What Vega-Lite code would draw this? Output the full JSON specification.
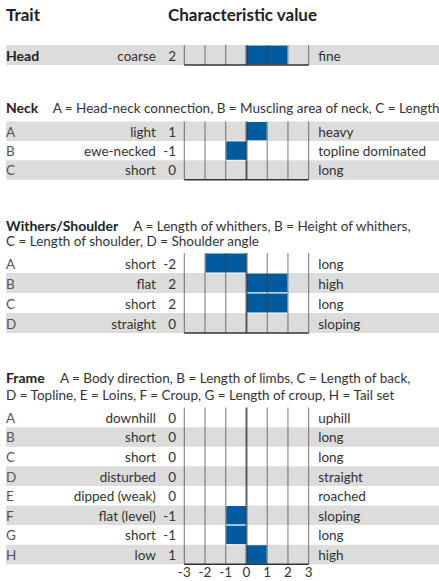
{
  "$schema": "https://vega.github.io/schema/vega-lite/v6.json",
  "padding": {"left": 6, "top": 0, "right": 0, "bottom": 0},
  "background": "white",
  "spacing": 0,
  "bounds": "flush",
  "config": {
    "view": {"stroke": null},
    "font": "Lato",
    "text": {"font": "Lato", "fontSize": 13.5, "color": "#333333"}
  },
  "datasets": {
    "head": [
      {"item": "Head", "low": "coarse", "high": "fine", "value": 2}
    ],
    "neck": [
      {"item": "A", "low": "light", "high": "heavy", "value": 1},
      {"item": "B", "low": "ewe-necked", "high": "topline dominated", "value": -1},
      {"item": "C", "low": "short", "high": "long", "value": 0}
    ],
    "withers": [
      {"item": "A", "low": "short", "high": "long", "value": -2},
      {"item": "B", "low": "flat", "high": "high", "value": 2},
      {"item": "C", "low": "short", "high": "long", "value": 2},
      {"item": "D", "low": "straight", "high": "sloping", "value": 0}
    ],
    "frame": [
      {"item": "A", "low": "downhill", "high": "uphill", "value": 0},
      {"item": "B", "low": "short", "high": "long", "value": 0},
      {"item": "C", "low": "short", "high": "long", "value": 0},
      {"item": "D", "low": "disturbed", "high": "straight", "value": 0},
      {"item": "E", "low": "dipped (weak)", "high": "roached", "value": 0},
      {"item": "F", "low": "flat (level)", "high": "sloping", "value": -1},
      {"item": "G", "low": "short", "high": "long", "value": -1},
      {"item": "H", "low": "low", "high": "high", "value": 1}
    ],
    "scaleLabels": [
      {"tick": -3}, {"tick": -2}, {"tick": -1}, {"tick": 0}, {"tick": 1}, {"tick": 2}, {"tick": 3}
    ]
  },
  "vconcat": [
    {
      "width": 433,
      "height": 65,
      "data": {"name": "head"},
      "layer": [
        {
          "mark": {"type": "rect", "fill": "#dcdcdc"},
          "encoding": {
            "x": {"datum": -11.6, "type": "quantitative", "scale": {"domain": [-11.6, 9.286], "nice": false, "zero": false}, "axis": null},
            "x2": {"datum": 9.286},
            "y": {"field": "item", "type": "nominal", "scale": {"domain": ["title", "blank", "Head"], "paddingInner": 0, "paddingOuter": 0.125, "align": 1}, "axis": null}
          }
        },
        {
          "transform": [{"filter": "datum.value != 0"}],
          "mark": {"type": "rect", "fill": "#005b9f", "stroke": "white", "strokeWidth": 1},
          "encoding": {
            "x": {"field": "value", "type": "quantitative", "axis": null},
            "x2": {"datum": 0},
            "y": {"field": "item", "type": "nominal", "axis": null}
          }
        },
        {
          "encoding": {"y": {"field": "item", "type": "nominal", "axis": null}},
          "layer": [
            {"mark": {"type": "tick", "size": 20, "thickness": 1, "color": "#3d3d3d"}, "encoding": {"x": {"datum": -3, "type": "quantitative", "axis": null}}},
            {"mark": {"type": "tick", "size": 20, "thickness": 1, "color": "#3d3d3d"}, "encoding": {"x": {"datum": -2, "type": "quantitative", "axis": null}}},
            {"mark": {"type": "tick", "size": 20, "thickness": 1, "color": "#3d3d3d"}, "encoding": {"x": {"datum": -1, "type": "quantitative", "axis": null}}},
            {"mark": {"type": "tick", "size": 20, "thickness": 2, "color": "#222222"}, "encoding": {"x": {"datum": 0, "type": "quantitative", "axis": null}}},
            {"mark": {"type": "tick", "size": 20, "thickness": 1, "color": "#3d3d3d"}, "encoding": {"x": {"datum": 1, "type": "quantitative", "axis": null}}},
            {"mark": {"type": "tick", "size": 20, "thickness": 1, "color": "#3d3d3d"}, "encoding": {"x": {"datum": 2, "type": "quantitative", "axis": null}}},
            {"mark": {"type": "tick", "size": 20, "thickness": 1, "color": "#3d3d3d"}, "encoding": {"x": {"datum": 3, "type": "quantitative", "axis": null}}}
          ]
        },
        {
          "data": {"values": [{}]},
          "mark": {"type": "rule", "strokeWidth": 1.5, "color": "#333333"},
          "encoding": {
            "x": {"datum": -3, "type": "quantitative", "axis": null},
            "x2": {"datum": 3},
            "y": {"datum": "Head", "type": "nominal", "bandPosition": 1, "axis": null}
          }
        },
        {
          "data": {"values": [{}]},
          "mark": {"type": "text", "text": "Trait", "fontWeight": "bold", "fontSize": 17, "align": "left", "baseline": "middle", "dy": 1, "color": "#222222"},
          "encoding": {
            "x": {"datum": -11.6, "type": "quantitative", "axis": null},
            "y": {"datum": "title", "type": "nominal", "axis": null}
          }
        },
        {
          "data": {"values": [{}]},
          "mark": {"type": "text", "text": "Characteristic value", "fontWeight": "bold", "fontSize": 17, "align": "left", "baseline": "middle", "dy": 1, "color": "#222222"},
          "encoding": {
            "x": {"datum": -3.79, "type": "quantitative", "axis": null},
            "y": {"datum": "title", "type": "nominal", "axis": null}
          }
        },
        {
          "mark": {"type": "text", "fontWeight": "bold", "fontSize": 14, "align": "left", "baseline": "middle", "dy": 2, "color": "#222222"},
          "encoding": {
            "x": {"datum": -11.6, "type": "quantitative", "axis": null},
            "y": {"field": "item", "type": "nominal", "axis": null},
            "text": {"field": "item", "type": "nominal"}
          }
        },
        {
          "mark": {"type": "text", "align": "right", "baseline": "middle", "dy": 2},
          "encoding": {
            "x": {"datum": -4.37, "type": "quantitative", "axis": null},
            "y": {"field": "item", "type": "nominal", "axis": null},
            "text": {"field": "low", "type": "nominal"}
          }
        },
        {
          "mark": {"type": "text", "align": "right", "baseline": "middle", "dy": 2},
          "encoding": {
            "x": {"datum": -3.4, "type": "quantitative", "axis": null},
            "y": {"field": "item", "type": "nominal", "axis": null},
            "text": {"field": "value", "type": "nominal"}
          }
        },
        {
          "mark": {"type": "text", "align": "left", "baseline": "middle", "dy": 2},
          "encoding": {
            "x": {"datum": 3.46, "type": "quantitative", "axis": null},
            "y": {"field": "item", "type": "nominal", "axis": null},
            "text": {"field": "high", "type": "nominal"}
          }
        }
      ]
    },
    {
      "width": 433,
      "height": 114.7,
      "data": {"name": "neck"},
      "layer": [
        {
          "transform": [{"filter": {"field": "item", "oneOf": ["A", "C"]}}],
          "mark": {"type": "rect", "fill": "#dcdcdc"},
          "encoding": {
            "x": {"datum": -11.6, "type": "quantitative", "scale": {"domain": [-11.6, 9.286], "nice": false, "zero": false}, "axis": null},
            "x2": {"datum": 9.286},
            "y": {"field": "item", "type": "nominal", "scale": {"domain": ["h1", "A", "B", "C"], "paddingInner": 0, "paddingOuter": 0.956, "align": 1}, "axis": null}
          }
        },
        {
          "transform": [{"filter": "datum.value != 0"}],
          "mark": {"type": "rect", "fill": "#005b9f", "stroke": "white", "strokeWidth": 1},
          "encoding": {
            "x": {"field": "value", "type": "quantitative", "axis": null},
            "x2": {"datum": 0},
            "y": {"field": "item", "type": "nominal", "axis": null}
          }
        },
        {
          "encoding": {"y": {"field": "item", "type": "nominal", "axis": null}},
          "layer": [
            {"mark": {"type": "tick", "size": 19.4, "thickness": 1, "color": "#3d3d3d"}, "encoding": {"x": {"datum": -3, "type": "quantitative", "axis": null}}},
            {"mark": {"type": "tick", "size": 19.4, "thickness": 1, "color": "#3d3d3d"}, "encoding": {"x": {"datum": -2, "type": "quantitative", "axis": null}}},
            {"mark": {"type": "tick", "size": 19.4, "thickness": 1, "color": "#3d3d3d"}, "encoding": {"x": {"datum": -1, "type": "quantitative", "axis": null}}},
            {"mark": {"type": "tick", "size": 19.4, "thickness": 2, "color": "#222222"}, "encoding": {"x": {"datum": 0, "type": "quantitative", "axis": null}}},
            {"mark": {"type": "tick", "size": 19.4, "thickness": 1, "color": "#3d3d3d"}, "encoding": {"x": {"datum": 1, "type": "quantitative", "axis": null}}},
            {"mark": {"type": "tick", "size": 19.4, "thickness": 1, "color": "#3d3d3d"}, "encoding": {"x": {"datum": 2, "type": "quantitative", "axis": null}}},
            {"mark": {"type": "tick", "size": 19.4, "thickness": 1, "color": "#3d3d3d"}, "encoding": {"x": {"datum": 3, "type": "quantitative", "axis": null}}}
          ]
        },
        {
          "data": {"values": [{}]},
          "mark": {"type": "rule", "strokeWidth": 1.5, "color": "#333333"},
          "encoding": {
            "x": {"datum": -3, "type": "quantitative", "axis": null},
            "x2": {"datum": 3},
            "y": {"datum": "C", "type": "nominal", "bandPosition": 1, "axis": null}
          }
        },
        {
          "data": {"values": [{}]},
          "mark": {"type": "text", "text": "Neck", "fontWeight": "bold", "fontSize": 14, "align": "left", "baseline": "middle", "dy": -2.5, "color": "#222222"},
          "encoding": {
            "x": {"datum": -11.6, "type": "quantitative", "axis": null},
            "y": {"datum": "h1", "type": "nominal", "axis": null}
          }
        },
        {
          "data": {"values": [{}]},
          "mark": {"type": "text", "text": "A = Head-neck connection, B = Muscling area of neck, C = Length", "align": "left", "baseline": "middle", "dy": -2.5},
          "encoding": {
            "x": {"datum": -9.35, "type": "quantitative", "axis": null},
            "y": {"datum": "h1", "type": "nominal", "axis": null}
          }
        },
        {
          "mark": {"type": "text", "align": "left", "baseline": "middle", "dy": 1.5, "color": "#555555"},
          "encoding": {
            "x": {"datum": -11.6, "type": "quantitative", "axis": null},
            "y": {"field": "item", "type": "nominal", "axis": null},
            "text": {"field": "item", "type": "nominal"}
          }
        },
        {
          "mark": {"type": "text", "align": "right", "baseline": "middle", "dy": 1.5},
          "encoding": {
            "x": {"datum": -4.37, "type": "quantitative", "axis": null},
            "y": {"field": "item", "type": "nominal", "axis": null},
            "text": {"field": "low", "type": "nominal"}
          }
        },
        {
          "mark": {"type": "text", "align": "right", "baseline": "middle", "dy": 1.5},
          "encoding": {
            "x": {"datum": -3.4, "type": "quantitative", "axis": null},
            "y": {"field": "item", "type": "nominal", "axis": null},
            "text": {"field": "value", "type": "nominal"}
          }
        },
        {
          "mark": {"type": "text", "align": "left", "baseline": "middle", "dy": 1.5},
          "encoding": {
            "x": {"datum": 3.46, "type": "quantitative", "axis": null},
            "y": {"field": "item", "type": "nominal", "axis": null},
            "text": {"field": "high", "type": "nominal"}
          }
        }
      ]
    },
    {
      "width": 433,
      "height": 153,
      "data": {"name": "withers"},
      "layer": [
        {
          "transform": [{"filter": {"field": "item", "oneOf": ["B", "D"]}}],
          "mark": {"type": "rect", "fill": "#dcdcdc"},
          "encoding": {
            "x": {"datum": -11.6, "type": "quantitative", "scale": {"domain": [-11.6, 9.286], "nice": false, "zero": false}, "axis": null},
            "x2": {"datum": 9.286},
            "y": {"field": "item", "type": "nominal", "scale": {"domain": ["h1", "h2", "A", "B", "C", "D"], "paddingInner": 0, "paddingOuter": 0.825, "align": 1}, "axis": null}
          }
        },
        {
          "transform": [{"filter": "datum.value != 0"}],
          "mark": {"type": "rect", "fill": "#005b9f", "stroke": "white", "strokeWidth": 1},
          "encoding": {
            "x": {"field": "value", "type": "quantitative", "axis": null},
            "x2": {"datum": 0},
            "y": {"field": "item", "type": "nominal", "axis": null}
          }
        },
        {
          "encoding": {"y": {"field": "item", "type": "nominal", "axis": null}},
          "layer": [
            {"mark": {"type": "tick", "size": 20, "thickness": 1, "color": "#3d3d3d"}, "encoding": {"x": {"datum": -3, "type": "quantitative", "axis": null}}},
            {"mark": {"type": "tick", "size": 20, "thickness": 1, "color": "#3d3d3d"}, "encoding": {"x": {"datum": -2, "type": "quantitative", "axis": null}}},
            {"mark": {"type": "tick", "size": 20, "thickness": 1, "color": "#3d3d3d"}, "encoding": {"x": {"datum": -1, "type": "quantitative", "axis": null}}},
            {"mark": {"type": "tick", "size": 20, "thickness": 2, "color": "#222222"}, "encoding": {"x": {"datum": 0, "type": "quantitative", "axis": null}}},
            {"mark": {"type": "tick", "size": 20, "thickness": 1, "color": "#3d3d3d"}, "encoding": {"x": {"datum": 1, "type": "quantitative", "axis": null}}},
            {"mark": {"type": "tick", "size": 20, "thickness": 1, "color": "#3d3d3d"}, "encoding": {"x": {"datum": 2, "type": "quantitative", "axis": null}}},
            {"mark": {"type": "tick", "size": 20, "thickness": 1, "color": "#3d3d3d"}, "encoding": {"x": {"datum": 3, "type": "quantitative", "axis": null}}}
          ]
        },
        {
          "data": {"values": [{}]},
          "mark": {"type": "rule", "strokeWidth": 1.5, "color": "#333333"},
          "encoding": {
            "x": {"datum": -3, "type": "quantitative", "axis": null},
            "x2": {"datum": 3},
            "y": {"datum": "D", "type": "nominal", "bandPosition": 1, "axis": null}
          }
        },
        {
          "data": {"values": [{}]},
          "mark": {"type": "text", "text": "Withers/Shoulder", "fontWeight": "bold", "fontSize": 14, "align": "left", "baseline": "middle", "dy": 4, "color": "#222222"},
          "encoding": {
            "x": {"datum": -11.6, "type": "quantitative", "axis": null},
            "y": {"datum": "h1", "type": "nominal", "axis": null}
          }
        },
        {
          "data": {"values": [{}]},
          "mark": {"type": "text", "text": "A = Length of whithers, B = Height of whithers,", "align": "left", "baseline": "middle", "dy": 4},
          "encoding": {
            "x": {"datum": -5.46, "type": "quantitative", "axis": null},
            "y": {"datum": "h1", "type": "nominal", "axis": null}
          }
        },
        {
          "data": {"values": [{}]},
          "mark": {"type": "text", "text": "C = Length of shoulder, D = Shoulder angle", "align": "left", "baseline": "middle", "dy": -0.7},
          "encoding": {
            "x": {"datum": -11.6, "type": "quantitative", "axis": null},
            "y": {"datum": "h2", "type": "nominal", "axis": null}
          }
        },
        {
          "mark": {"type": "text", "align": "left", "baseline": "middle", "dy": 1.5, "color": "#555555"},
          "encoding": {
            "x": {"datum": -11.6, "type": "quantitative", "axis": null},
            "y": {"field": "item", "type": "nominal", "axis": null},
            "text": {"field": "item", "type": "nominal"}
          }
        },
        {
          "mark": {"type": "text", "align": "right", "baseline": "middle", "dy": 1.5},
          "encoding": {
            "x": {"datum": -4.37, "type": "quantitative", "axis": null},
            "y": {"field": "item", "type": "nominal", "axis": null},
            "text": {"field": "low", "type": "nominal"}
          }
        },
        {
          "mark": {"type": "text", "align": "right", "baseline": "middle", "dy": 1.5},
          "encoding": {
            "x": {"datum": -3.4, "type": "quantitative", "axis": null},
            "y": {"field": "item", "type": "nominal", "axis": null},
            "text": {"field": "value", "type": "nominal"}
          }
        },
        {
          "mark": {"type": "text", "align": "left", "baseline": "middle", "dy": 1.5},
          "encoding": {
            "x": {"datum": 3.46, "type": "quantitative", "axis": null},
            "y": {"field": "item", "type": "nominal", "axis": null},
            "text": {"field": "high", "type": "nominal"}
          }
        }
      ]
    },
    {
      "width": 433,
      "height": 231.3,
      "data": {"name": "frame"},
      "layer": [
        {
          "transform": [{"filter": {"field": "item", "oneOf": ["B", "D", "F", "H"]}}],
          "mark": {"type": "rect", "fill": "#dcdcdc"},
          "encoding": {
            "x": {"datum": -11.6, "type": "quantitative", "scale": {"domain": [-11.6, 9.286], "nice": false, "zero": false}, "axis": null},
            "x2": {"datum": 9.286},
            "y": {"field": "item", "type": "nominal", "scale": {"domain": ["h1", "h2", "A", "B", "C", "D", "E", "F", "G", "H"], "paddingInner": 0, "paddingOuter": 0.9035, "align": 1}, "axis": null}
          }
        },
        {
          "transform": [{"filter": "datum.value != 0"}],
          "mark": {"type": "rect", "fill": "#005b9f", "stroke": "white", "strokeWidth": 1},
          "encoding": {
            "x": {"field": "value", "type": "quantitative", "axis": null},
            "x2": {"datum": 0},
            "y": {"field": "item", "type": "nominal", "axis": null}
          }
        },
        {
          "encoding": {"y": {"field": "item", "type": "nominal", "axis": null}},
          "layer": [
            {"mark": {"type": "tick", "size": 19.6, "thickness": 1, "color": "#3d3d3d"}, "encoding": {"x": {"datum": -3, "type": "quantitative", "axis": null}}},
            {"mark": {"type": "tick", "size": 19.6, "thickness": 1, "color": "#3d3d3d"}, "encoding": {"x": {"datum": -2, "type": "quantitative", "axis": null}}},
            {"mark": {"type": "tick", "size": 19.6, "thickness": 1, "color": "#3d3d3d"}, "encoding": {"x": {"datum": -1, "type": "quantitative", "axis": null}}},
            {"mark": {"type": "tick", "size": 19.6, "thickness": 2, "color": "#222222"}, "encoding": {"x": {"datum": 0, "type": "quantitative", "axis": null}}},
            {"mark": {"type": "tick", "size": 19.6, "thickness": 1, "color": "#3d3d3d"}, "encoding": {"x": {"datum": 1, "type": "quantitative", "axis": null}}},
            {"mark": {"type": "tick", "size": 19.6, "thickness": 1, "color": "#3d3d3d"}, "encoding": {"x": {"datum": 2, "type": "quantitative", "axis": null}}},
            {"mark": {"type": "tick", "size": 19.6, "thickness": 1, "color": "#3d3d3d"}, "encoding": {"x": {"datum": 3, "type": "quantitative", "axis": null}}}
          ]
        },
        {
          "data": {"values": [{}]},
          "mark": {"type": "rule", "strokeWidth": 1.5, "color": "#333333"},
          "encoding": {
            "x": {"datum": -3, "type": "quantitative", "axis": null},
            "x2": {"datum": 3},
            "y": {"datum": "H", "type": "nominal", "bandPosition": 1, "axis": null}
          }
        },
        {
          "data": {"name": "scaleLabels"},
          "mark": {"type": "text", "align": "center", "baseline": "top", "dy": 2},
          "encoding": {
            "x": {"field": "tick", "type": "quantitative", "axis": null},
            "y": {"datum": "H", "type": "nominal", "bandPosition": 1, "axis": null},
            "text": {"field": "tick", "type": "nominal"}
          }
        },
        {
          "data": {"values": [{}]},
          "mark": {"type": "text", "text": "Frame", "fontWeight": "bold", "fontSize": 14, "align": "left", "baseline": "middle", "dy": 1, "color": "#222222"},
          "encoding": {
            "x": {"datum": -11.6, "type": "quantitative", "axis": null},
            "y": {"datum": "h1", "type": "nominal", "axis": null}
          }
        },
        {
          "data": {"values": [{}]},
          "mark": {"type": "text", "text": "A = Body direction, B = Length of limbs, C = Length of back,", "align": "left", "baseline": "middle", "dy": 1},
          "encoding": {
            "x": {"datum": -9.0, "type": "quantitative", "axis": null},
            "y": {"datum": "h1", "type": "nominal", "axis": null}
          }
        },
        {
          "data": {"values": [{}]},
          "mark": {"type": "text", "text": "D = Topline, E = Loins, F = Croup, G = Length of croup, H = Tail set", "align": "left", "baseline": "middle", "dy": -2},
          "encoding": {
            "x": {"datum": -11.6, "type": "quantitative", "axis": null},
            "y": {"datum": "h2", "type": "nominal", "axis": null}
          }
        },
        {
          "mark": {"type": "text", "align": "left", "baseline": "middle", "dy": 1.5, "color": "#555555"},
          "encoding": {
            "x": {"datum": -11.6, "type": "quantitative", "axis": null},
            "y": {"field": "item", "type": "nominal", "axis": null},
            "text": {"field": "item", "type": "nominal"}
          }
        },
        {
          "mark": {"type": "text", "align": "right", "baseline": "middle", "dy": 1.5},
          "encoding": {
            "x": {"datum": -4.37, "type": "quantitative", "axis": null},
            "y": {"field": "item", "type": "nominal", "axis": null},
            "text": {"field": "low", "type": "nominal"}
          }
        },
        {
          "mark": {"type": "text", "align": "right", "baseline": "middle", "dy": 1.5},
          "encoding": {
            "x": {"datum": -3.4, "type": "quantitative", "axis": null},
            "y": {"field": "item", "type": "nominal", "axis": null},
            "text": {"field": "value", "type": "nominal"}
          }
        },
        {
          "mark": {"type": "text", "align": "left", "baseline": "middle", "dy": 1.5},
          "encoding": {
            "x": {"datum": 3.46, "type": "quantitative", "axis": null},
            "y": {"field": "item", "type": "nominal", "axis": null},
            "text": {"field": "high", "type": "nominal"}
          }
        }
      ]
    }
  ]
}
